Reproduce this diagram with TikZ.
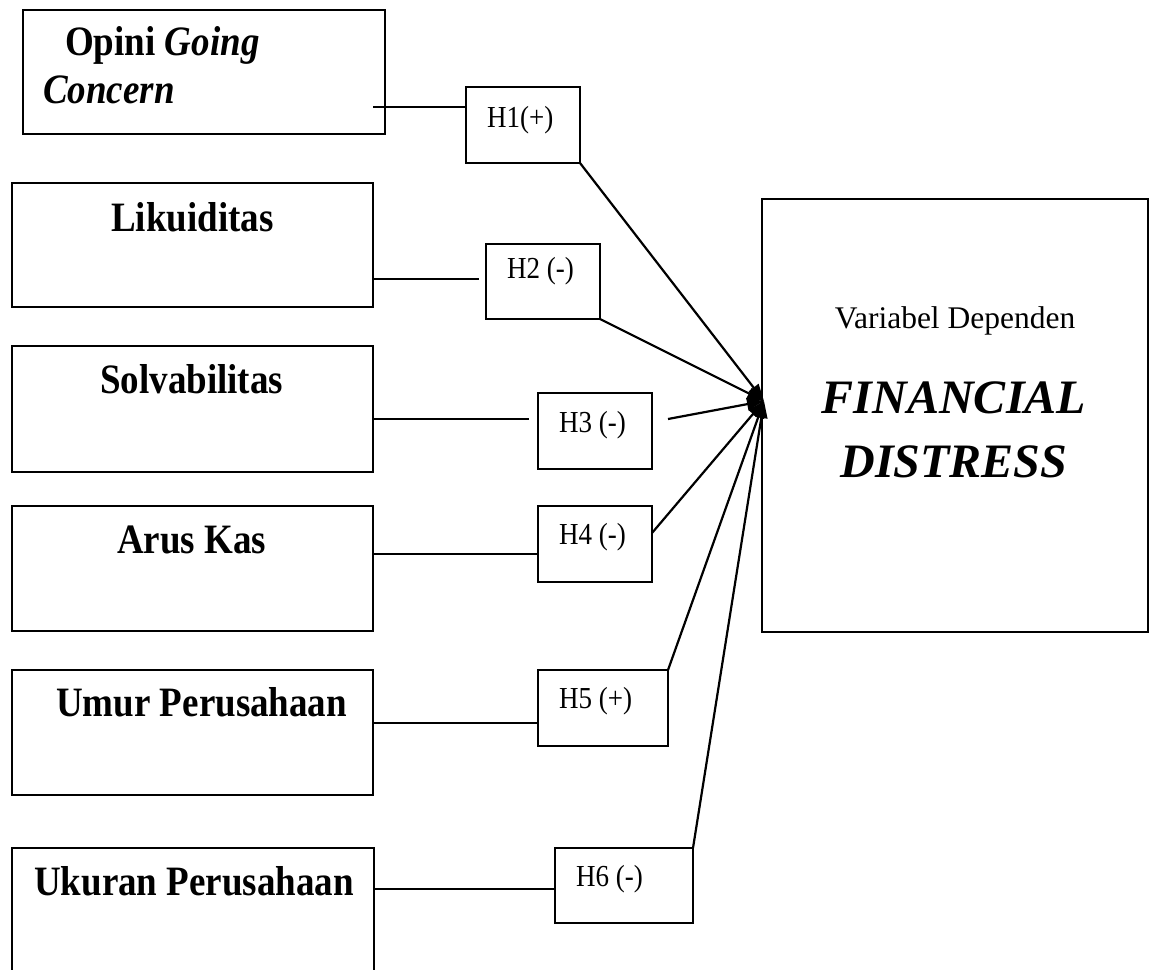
\documentclass[tikz,border=0pt]{standalone}
\usepackage{fontspec}
\setmainfont{Liberation Serif}
\usetikzlibrary{arrows.meta}
\newcommand{\tallx}[1]{\scalebox{1}[1.13]{#1}}
\begin{document}
\begin{tikzpicture}[x=1pt,y=-1pt,
  box/.style={draw,line width=1.5pt,inner sep=0pt,outer sep=0pt,rectangle},
  vlab/.style={inner sep=0pt,anchor=base west,font=\fontsize{37}{44}\selectfont\bfseries},
  hlab/.style={inner sep=0pt,anchor=base west,font=\fontsize{27}{32}\selectfont},
  link/.style={line width=1.4pt},
  arr/.style={line width=2.2pt,-{Triangle[length=17pt,width=12pt]}}
]
\clip (0,0) rectangle (1150,969);
% variable boxes
\node[box,minimum width=362pt,minimum height=124pt] (b1) at (204,72) {};
\node[box,minimum width=361pt,minimum height=124pt] (b2) at (192.5,245) {};
\node[box,minimum width=361pt,minimum height=126pt] (b3) at (192.5,409) {};
\node[box,minimum width=361pt,minimum height=125pt] (b4) at (192.5,568.5) {};
\node[box,minimum width=361pt,minimum height=125pt] (b5) at (192.5,732.5) {};
\node[box,minimum width=362pt,minimum height=152pt] (b6) at (193,924) {};
% variable labels
\node[vlab] (t1a) at (65,55) {\tallx{Opini \textit{Going}}};
\node[vlab] (t1b) at (43,103) {\tallx{\textit{Concern}}};
\node[vlab] (t2) at (111,231) {\tallx{Likuiditas}};
\node[vlab] (t3) at (100,393) {\tallx{Solvabilitas}};
\node[vlab] (t4) at (117,553) {\tallx{Arus Kas}};
\node[vlab] (t5) at (56,716) {\tallx{Umur Perusahaan}};
\node[vlab] (t6) at (34,895) {\tallx{Ukuran Perusahaan}};
% hypothesis boxes
\node[box,minimum width=114pt,minimum height=76pt] (h1) at (523,125) {};
\node[box,minimum width=114pt,minimum height=75pt] (h2) at (543,281.5) {};
\node[box,minimum width=114pt,minimum height=76pt] (h3) at (595,431) {};
\node[box,minimum width=114pt,minimum height=76pt] (h4) at (595,544) {};
\node[box,minimum width=130pt,minimum height=76pt] (h5) at (603,708) {};
\node[box,minimum width=138pt,minimum height=75pt] (h6) at (624,885.5) {};
\node[hlab] (th1) at (487,127) {\tallx{H1(+)}};
\node[hlab] (th2) at (507,278) {\tallx{H2 (-)}};
\node[hlab] (th3) at (559,432) {\tallx{H3 (-)}};
\node[hlab] (th4) at (559,544) {\tallx{H4 (-)}};
\node[hlab] (th5) at (559,708) {\tallx{H5 (+)}};
\node[hlab] (th6) at (576,886) {\tallx{H6 (-)}};
% dependent variable
\node[box,minimum width=386pt,minimum height=433pt] (dv) at (955,415.5) {};
\node[inner sep=0pt,anchor=base,font=\fontsize{31.5}{36}\selectfont] (dvt) at (955,328) {Variabel Dependen};
\node[inner sep=0pt,anchor=base,font=\fontsize{48}{56}\selectfont\bfseries\itshape] (dv1) at (954,413) {FINANCIAL};
\node[inner sep=0pt,anchor=base,font=\fontsize{48}{56}\selectfont\bfseries\itshape] (dv2) at (954,477) {DISTRESS};
\coordinate (tgt) at (764,401);
% horizontal links
\draw[link] ([xshift=-12pt,yshift=-35pt]b1.east) -- ([yshift=18pt]h1.west);
\draw[link] ([yshift=-34pt]b2.east) -- ([xshift=-7pt,yshift=2.5pt]h2.west);
\draw[link] ([yshift=-10pt]b3.east) -- ([xshift=-9pt,yshift=12pt]h3.west);
\draw[link] ([yshift=14.5pt]b4.east) -- ([yshift=-10pt]h4.west);
\draw[link] ([yshift=9.5pt]b5.east) -- ([yshift=-15pt]h5.west);
\draw[link] ([yshift=35pt]b6.east) -- ([yshift=-3.5pt]h6.west);
% arrows to dependent variable
\draw[arr] (h1.south east) -- (tgt);
\draw[arr] (h2.south east) -- (tgt);
\draw[arr] ([xshift=16pt,yshift=12pt]h3.east) -- (tgt);
\draw[arr] ([yshift=11pt]h4.east) -- (tgt);
\draw[arr] (h5.north east) -- (tgt);
\draw[arr] (h6.north east) -- (tgt);
\end{tikzpicture}
\end{document}
